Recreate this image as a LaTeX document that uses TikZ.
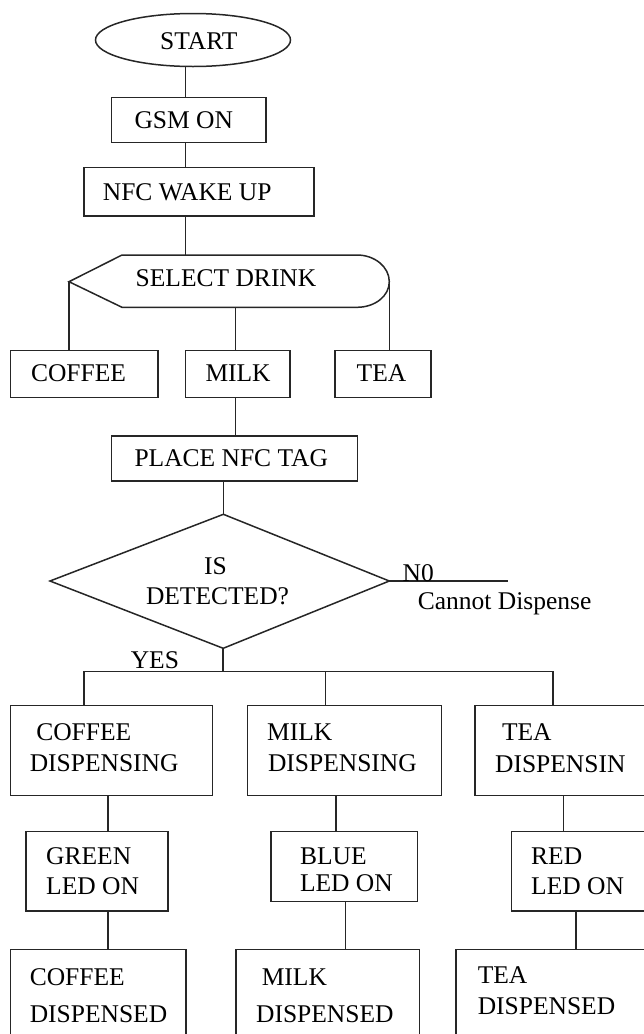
\documentclass[tikz,border=0pt]{standalone}
\usepackage{fontspec}
\setmainfont{Liberation Serif}
\usetikzlibrary{shapes.geometric,fit}
\begin{document}
\begin{tikzpicture}[x=1pt,y=-1pt,
  line/.style={draw=black!85,line width=1.5pt},
  box/.style={line,rectangle,inner sep=0pt},
  txt/.style={anchor=base west,inner sep=0pt,font=\fontsize{25.5}{30}\selectfont}]
\useasboundingbox (0,0) rectangle (644,1034);
% x positions of vertical connectors
\coordinate (xa) at (185.6,0);
\coordinate (xm) at (235.7,0);
\coordinate (xg) at (107.8,0);
\coordinate (xb) at (336,0);
\coordinate (xr) at (563.5,0);
\coordinate (xg2) at (108,0);
\coordinate (xb2) at (345.4,0);
\coordinate (xr2) at (575.8,0);
% shapes
\node[line,ellipse,minimum width=195pt,minimum height=53pt,inner sep=0pt] (start) at (193,40) {};
\node[box,fit={(111.7,97.7) (266,142.7)}] (gsm) {};
\node[box,fit={(83.8,167.7) (313.8,216)}] (nfc) {};
\coordinate (selT) at (185.6,255);
\coordinate (selL) at (69,281.7);
\coordinate (selR) at (389.3,281.7);
\coordinate (selB) at (235.7,307.3);
\draw[line] (selL) -- (122,255) -- (357,255) .. controls (374.8,255) and (389.3,267) .. (selR)
  .. controls (389.3,296.2) and (374.8,307.3) .. (357,307.3) -- (122,307.3) -- cycle;
\node[box,fit={(10.3,350.7) (158,397.7)}] (coffee) {};
\node[box,fit={(185.6,350.7) (290,397.7)}] (milk) {};
\node[box,fit={(335,350.7) (431,397.7)}] (tea) {};
\node[box,fit={(111.7,436) (357.3,481)}] (place) {};
\coordinate (dT) at (223.4,514.3);
\coordinate (dL) at (50,581);
\coordinate (dR) at (389.3,581);
\coordinate (dB) at (223.2,648.3);
\draw[line] (dT) -- (dR) -- (dB) -- (dL) -- cycle;
\coordinate (noEnd) at (508,581);
\coordinate (busL) at (84.2,671.7);
\coordinate (busM) at (325.7,671.7);
\coordinate (busR) at (553.2,671.7);
\node[box,fit={(10.3,705.7) (212.3,795.3)}] (cd) {};
\node[box,fit={(247.6,705.7) (441.5,795.3)}] (md) {};
\node[box,fit={(475.2,705.7) (660,795.3)}] (td) {};
\node[box,fit={(25.9,831.7) (168,911)}] (green) {};
\node[box,fit={(271,831.7) (417.7,901.7)}] (blue) {};
\node[box,fit={(511.3,831.7) (660,911)}] (red) {};
\node[box,fit={(10.3,949.3) (186,1045)}] (cdd) {};
\node[box,fit={(236,949.3) (419.7,1045)}] (mdd) {};
\node[box,fit={(455.9,949.3) (660,1045)}] (tdd) {};
% connectors
\draw[line] (start.south -| xa) -- (gsm.north -| xa);
\draw[line] (gsm.south -| xa) -- (nfc.north -| xa);
\draw[line] (nfc.south -| xa) -- (selT);
\draw[line] (selL) -- (selL |- coffee.north);
\draw[line] (selB) -- (selB |- milk.north);
\draw[line] (selR) -- (selR |- tea.north);
\draw[line] (milk.south -| xm) -- (place.north -| xm);
\draw[line] (place.south -| dT) -- (dT);
\draw[line] (dR) -- (noEnd);
\draw[line] (dB) -- (dB |- busL);
\draw[line] (busL |- cd.north) -- (busL) -- (busR) -- (busR |- td.north);
\draw[line] (busM) -- (busM |- md.north);
\draw[line] (cd.south -| xg) -- (green.north -| xg);
\draw[line] (md.south -| xb) -- (blue.north -| xb);
\draw[line] (td.south -| xr) -- (red.north -| xr);
\draw[line] (green.south -| xg2) -- (cdd.north -| xg2);
\draw[line] (blue.south -| xb2) -- (mdd.north -| xb2);
\draw[line] (red.south -| xr2) -- (tdd.north -| xr2);
% texts
\node[txt] (tstart) at (160,49.3) {START};
\node[txt] (tgsm) at (134.3,128.3) {GSM ON};
\node[txt] (tnfc) at (102.7,200) {NFC WAKE UP};
\node[txt] (tsel) at (135.5,286.7) {SELECT DRINK};
\node[txt] (tcoffee) at (30.8,381) {COFFEE};
\node[txt] (tmilk) at (205.3,381) {MILK};
\node[txt] (ttea) at (356.5,381) {TEA};
\node[txt] (tplace) at (134.3,466.7) {PLACE NFC TAG};
\node[txt] (tis) at (204,574) {IS};
\node[txt] (tdet) at (145.8,604.3) {DETECTED?};
\node[txt] (tno) at (402.5,581.7) {N0};
\node[txt] (tcannot) at (417.7,609.3) {Cannot Dispense};
\node[txt] (tyes) at (130.6,668.3) {YES};
\node[txt] (tcd1) at (36.1,740) {COFFEE};
\node[txt] (tcd2) at (29.6,771) {DISPENSING};
\node[txt] (tmd1) at (267,740) {MILK};
\node[txt] (tmd2) at (267.8,771) {DISPENSING};
\node[txt] (ttd1) at (501.8,740) {TEA};
\node[txt] (ttd2) at (494.9,772.7) {DISPENSIN};
\node[txt] (tg1) at (46,864) {GREEN};
\node[txt] (tg2) at (46,894.3) {LED ON};
\node[txt] (tb1) at (299.8,864) {BLUE};
\node[txt] (tb2) at (299.8,891) {LED ON};
\node[txt] (tr1) at (531,864) {RED};
\node[txt] (tr2) at (531,894.3) {LED ON};
\node[txt] (tcdd1) at (29.6,985.7) {COFFEE};
\node[txt] (tcdd2) at (29.6,1022.3) {DISPENSED};
\node[txt] (tmdd1) at (261.6,985.7) {MILK};
\node[txt] (tmdd2) at (255.9,1022.3) {DISPENSED};
\node[txt] (ttdd1) at (477.6,983.3) {TEA};
\node[txt] (ttdd2) at (477.6,1014.3) {DISPENSED};
\end{tikzpicture}
\end{document}
